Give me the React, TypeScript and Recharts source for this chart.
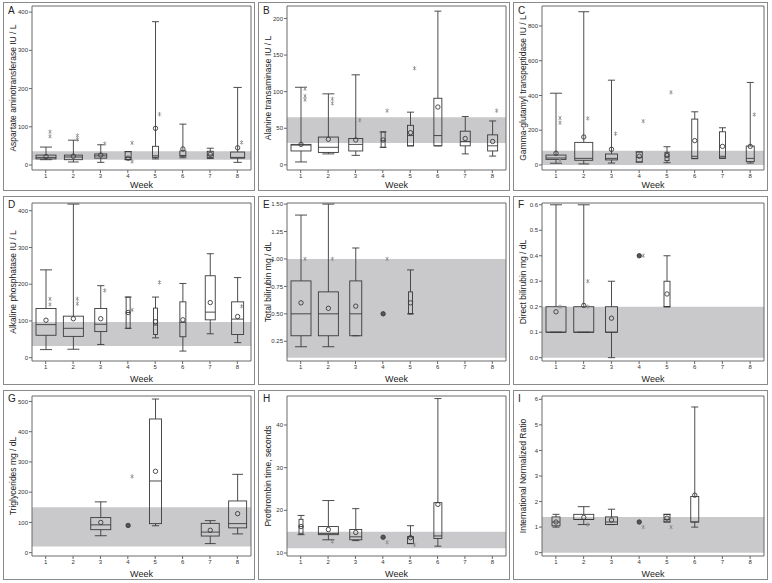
import { Bar, ComposedChart, ReferenceArea, XAxis, YAxis } from 'recharts'

const weeks = ['1', '2', '3', '4', '5', '6', '7', '8']

// Per week: [low whisker, Q1, median, Q3, high whisker, mean]; null = no samples that week
const astStats = [
  [14, 16, 20, 26, 47, 22],
  [8, 14, 21, 26, 65, 23],
  [7, 18, 24, 29, 53, 26],
  [14, 14, 20, 35, 35, 18],
  [16, 20, 24, 49, 375, 96],
  [19, 23, 25, 37, 107, 42],
  [17, 20, 26, 36, 44, 28],
  [7, 18, 20, 34, 203, 45],
]
const astOutliers = [[75, 87], [67, 77], [56], [9, 58], [133], [], [], [59]]
const astCounts = [10, 9, 6, 3, 3, 3, 3, 7]

const altStats = [
  [4, 19, 27, 28, 106, 28],
  [15, 17, 24, 38, 97, 35],
  [13, 19, 28, 36, 123, 34],
  [24, 24, 33, 45, 45, 34],
  [26, 26, 40, 54, 72, 44],
  [26, 26, 40, 91, 210, 79],
  [15, 26, 32, 46, 66, 36],
  [12, 19, 26, 41, 60, 32],
]
const altOutliers = [[89, 94, 104], [84, 90], [61], [74], [132], [], [], [74]]
const altCounts = [10, 10, 7, 2, 3, 4, 5, 5]

const ggtStats = [
  [10, 32, 40, 57, 413, 67],
  [6, 27, 38, 130, 882, 161],
  [11, 29, 38, 63, 488, 90],
  [17, 17, 44, 75, 75, 50],
  [13, 25, 50, 73, 105, 54],
  [36, 38, 50, 264, 306, 140],
  [38, 40, 50, 191, 214, 107],
  [11, 19, 38, 109, 475, 107],
]
const ggtOutliers = [[28, 243, 270], [268], [180], [252], [418], [], [], [290]]
const ggtCounts = [10, 9, 6, 3, 2, 3, 3, 4]

const alpStats = [
  [22, 61, 90, 134, 239, 102],
  [23, 58, 80, 113, 418, 106],
  [36, 71, 91, 134, 196, 106],
  [80, 80, 123, 165, 165, 123],
  [54, 63, 89, 135, 165, 98],
  [18, 57, 96, 152, 202, 103],
  [65, 103, 124, 223, 283, 150],
  [41, 63, 105, 152, 218, 112],
]
const alpOutliers = [[145, 160], [147, 160], [183], [130], [205], [], [], [140]]
const alpCounts = [10, 10, 6, 2, 2, 3, 5, 6]

const tbilStats = [
  [0.2, 0.3, 0.5, 0.8, 1.4, 0.6],
  [0.2, 0.3, 0.5, 0.7, 1.5, 0.55],
  [0.3, 0.3, 0.5, 0.8, 1.1, 0.57],
  [0.5, 0.5, 0.5, 0.5, 0.5, 0.5],
  [0.5, 0.5, 0.5, 0.7, 0.9, 0.6],
  null,
  null,
  null,
]
const tbilOutliers = [[1.0], [1.0], [], [1.0], [], [], [], []]
const tbilCounts = [10, 10, 6, 1, 2, 0, 0, 0]

const dbilStats = [
  [0.1, 0.1, 0.1, 0.2, 0.6, 0.18],
  [0.1, 0.1, 0.1, 0.2, 0.6, 0.205],
  [0.0, 0.1, 0.1, 0.2, 0.3, 0.155],
  [0.4, 0.4, 0.4, 0.4, 0.4, 0.4],
  [0.2, 0.2, 0.2, 0.3, 0.4, 0.25],
  null,
  null,
  null,
]
const dbilOutliers = [[0.2], [0.2, 0.3], [], [0.4], [], [], [], []]
const dbilCounts = [10, 10, 6, 1, 3, 0, 0, 0]

const tgStats = [
  null,
  null,
  [56, 76, 92, 116, 168, 100],
  [90, 90, 90, 90, 90, 90],
  [89, 96, 237, 442, 508, 269],
  null,
  [30, 55, 68, 97, 106, 74],
  [62, 82, 96, 171, 259, 129],
]
const tgOutliers = [[], [], [], [252], [], [], [], []]
const tgCounts = [0, 0, 10, 1, 6, 0, 9, 9]

const ptStats = [
  [14.3, 14.5, 16.2, 17.9, 18.8, 16.2],
  [13.1, 14.3, 14.6, 16.2, 22.3, 15.5],
  [12.9, 13.1, 13.8, 15.5, 20.4, 14.8],
  [13.7, 13.7, 13.7, 13.7, 13.7, 13.7],
  [12.2, 12.2, 13.8, 13.8, 16.4, 13.6],
  [11.6, 13.4, 14.0, 21.8, 46.2, 21.4],
  null,
  null,
]
const ptOutliers = [[], [12.7], [], [12.5], [11.9], [], [], []]
const ptCounts = [2, 10, 6, 1, 3, 4, 0, 0]

const inrStats = [
  [1.0, 1.05, 1.2, 1.4, 1.5, 1.2],
  [1.1, 1.3, 1.3, 1.5, 1.8, 1.38],
  [1.1, 1.1, 1.2, 1.4, 1.7, 1.28],
  [1.2, 1.2, 1.2, 1.2, 1.2, 1.2],
  [1.2, 1.2, 1.3, 1.5, 1.5, 1.35],
  [1.0, 1.2, 1.2, 2.2, 5.7, 2.25],
  null,
  null,
]
const inrOutliers = [[], [1.1], [], [1.0], [1.0], [], [], []]
const inrCounts = [4, 10, 6, 1, 3, 4, 0, 0]

// normal reference ranges (shaded band) and axis ticks
const astBand = [14, 36]
const altBand = [30, 65]
const ggtBand = [0, 82]
const alpBand = [32, 97]
const tbilBand = [0.1, 1.0]
const dbilBand = [0, 0.2]
const tgBand = [20, 150]
const ptBand = [11.1, 15]
const inrBand = [0, 1.4]

const astTicks = [0, 100, 200, 300, 400]
const altTicks = [0, 50, 100, 150, 200]
const ggtTicks = [0, 200, 400, 600, 800]
const alpTicks = [0, 100, 200, 300, 400]
const tbilTicks = [0.25, 0.5, 0.75, 1.0, 1.25, 1.5]
const dbilTicks = [0, 0.1, 0.2, 0.3, 0.4, 0.5, 0.6]
const tgTicks = [0, 100, 200, 300, 400, 500]
const ptTicks = [10, 20, 30, 40]
const inrTicks = [0, 1, 2, 3, 4, 5, 6]

// outer panel box [left, right] and plot frame [left, right] per column; same for rows
const COLS = [
  [3, 255, 32, 251],
  [258, 510, 287, 506],
  [513, 768, 542, 764],
]
const ROWS = [
  [2, 191, 6, 170],
  [196, 385, 203, 361],
  [390, 580, 396, 556],
]

const INK = '#3a3a3a'
const FONT = '"Liberation Sans", Arial, sans-serif'

type Stat = number[] | null

interface Panel {
  letter: string
  title: string
  stats: Stat[]
  outliers: number[][]
  counts: number[]
  band: number[]
  ticks: number[]
  domain: [number, number]
  digits: number
}

const panels: Panel[] = [
  { letter: 'A', title: 'Aspartate aminotransferase IU / L', stats: astStats, outliers: astOutliers, counts: astCounts, band: astBand, ticks: astTicks, domain: [-13, 416], digits: 0 },
  { letter: 'B', title: 'Alanine transaminase IU / L', stats: altStats, outliers: altOutliers, counts: altCounts, band: altBand, ticks: altTicks, domain: [-7, 217], digits: 0 },
  { letter: 'C', title: 'Gamma-glutamyl transpeptidase IU / L', stats: ggtStats, outliers: ggtOutliers, counts: ggtCounts, band: ggtBand, ticks: ggtTicks, domain: [-29, 915], digits: 0 },
  { letter: 'D', title: 'Alkaline phosphatase IU / L', stats: alpStats, outliers: alpOutliers, counts: alpCounts, band: alpBand, ticks: alpTicks, domain: [-9, 421], digits: 0 },
  { letter: 'E', title: 'Total bilirubin mg / dL', stats: tbilStats, outliers: tbilOutliers, counts: tbilCounts, band: tbilBand, ticks: tbilTicks, domain: [0.07, 1.51], digits: 2 },
  { letter: 'F', title: 'Direct bilirubin mg / dL', stats: dbilStats, outliers: dbilOutliers, counts: dbilCounts, band: dbilBand, ticks: dbilTicks, domain: [-0.013, 0.607], digits: 1 },
  { letter: 'G', title: 'Triglycerides mg / dL', stats: tgStats, outliers: tgOutliers, counts: tgCounts, band: tgBand, ticks: tgTicks, domain: [-11, 518], digits: 0 },
  { letter: 'H', title: 'Prothrombin time, seconds', stats: ptStats, outliers: ptOutliers, counts: ptCounts, band: ptBand, ticks: ptTicks, domain: [9.3, 46.8], digits: 0 },
  { letter: 'I', title: 'International Normalized Ratio', stats: inrStats, outliers: inrOutliers, counts: inrCounts, band: inrBand, ticks: inrTicks, domain: [-0.13, 6.13], digits: 0 },
]

function Asterisk({ cx, cy }: { cx: number; cy: number }) {
  const r = 2.2
  const d = r * 0.7
  return (
    <g stroke="#8c8c8c" strokeWidth={0.8}>
      <line x1={cx} x2={cx} y1={cy - r} y2={cy + r} />
      <line x1={cx - d} x2={cx + d} y1={cy - d} y2={cy + d} />
      <line x1={cx - d} x2={cx + d} y1={cy + d} y2={cy - d} />
    </g>
  )
}

// The bar spans the whole y domain, so its rect gives the value -> pixel mapping
function BoxGlyph(props: any) {
  const { x, y, width, height, payload, domain } = props
  const s: Stat = payload.stat
  if (!s) return <g />
  const [lo, hi] = domain
  const py = (v: number) => y + ((hi - v) / (hi - lo)) * height
  const cx = x + width / 2
  const bw = (width * payload.n) / 10
  const cap = Math.max(7, bw * 0.6)
  const [wl, q1, med, q3, wh, mean] = s
  const single = q1 === q3 && wl === wh
  return (
    <g>
      {!single && (
        <g stroke={INK} strokeWidth={0.9} fill="none">
          <line x1={cx} x2={cx} y1={py(wh)} y2={py(q3)} />
          <line x1={cx} x2={cx} y1={py(q1)} y2={py(wl)} />
          <line x1={cx - cap / 2} x2={cx + cap / 2} y1={py(wh)} y2={py(wh)} />
          <line x1={cx - cap / 2} x2={cx + cap / 2} y1={py(wl)} y2={py(wl)} />
          <rect x={cx - bw / 2} y={py(q3)} width={bw} height={py(q1) - py(q3)} />
          <line x1={cx - bw / 2} x2={cx + bw / 2} y1={py(med)} y2={py(med)} />
        </g>
      )}
      <circle
        cx={cx}
        cy={py(mean)}
        r={2.2}
        fill={single ? '#555' : 'none'}
        stroke={INK}
        strokeWidth={0.9}
      />
      {payload.out.map((v: number, i: number) => (
        <Asterisk key={i} cx={cx + 4} cy={py(v)} />
      ))}
    </g>
  )
}

function LabPanel({ panel, col, row }: { panel: Panel; col: number[]; row: number[] }) {
  const [left, right, frameL, frameR] = col
  const [top, bottom, frameT, frameB] = row
  const w = right - left
  const h = bottom - top
  const data = weeks.map((week, i) => ({
    week,
    span: panel.domain,
    stat: panel.stats[i],
    n: panel.counts[i],
    out: panel.outliers[i],
  }))
  const tickStyle = { fontSize: 6, fill: '#333' }
  return (
    <div
      style={{
        position: 'absolute',
        left,
        top,
        width: w,
        height: h,
        boxSizing: 'border-box',
        border: '1px solid #8a8a8a',
      }}
    >
      <div style={{ position: 'absolute', left: 4, top: 2, fontSize: 10, color: '#222' }}>
        {panel.letter}
      </div>
      <ComposedChart
        width={w - 2}
        height={h - 2}
        data={data}
        margin={{ top: frameT - top - 1, right: right - 1 - frameR, bottom: 0, left: 0 }}
      >
        <ReferenceArea
          y1={panel.band[0]}
          y2={panel.band[1]}
          fill="#c9c9cc"
          fillOpacity={1}
          stroke="none"
          ifOverflow="visible"
        />
        <XAxis
          dataKey="week"
          interval={0}
          axisLine={false}
          tickSize={3}
          tickMargin={1}
          tickLine={{ stroke: '#666' }}
          tick={tickStyle}
          height={bottom - 1 - frameB}
          label={{ value: 'Week', position: 'insideBottom', offset: 2, fontSize: 9, fill: '#222' }}
        />
        <YAxis
          type="number"
          domain={panel.domain}
          ticks={panel.ticks}
          allowDataOverflow
          axisLine={false}
          tickSize={3}
          tickMargin={1}
          tickLine={{ stroke: '#666' }}
          tick={tickStyle}
          width={frameL - left - 1}
          tickFormatter={(v: number) => v.toFixed(panel.digits)}
          label={{ value: panel.title, angle: -90, position: 'center', dx: -5, fontSize: 8.5, fill: '#222' }}
        />
        <Bar
          dataKey="span"
          barSize={20}
          isAnimationActive={false}
          shape={(p: any) => <BoxGlyph {...p} domain={panel.domain} />}
        />
        <ReferenceArea
          y1={panel.domain[0]}
          y2={panel.domain[1]}
          fill="none"
          stroke="#6a6a6a"
          strokeWidth={1}
          ifOverflow="visible"
        />
      </ComposedChart>
    </div>
  )
}

export default function App() {
  return (
    <div
      style={{
        position: 'absolute',
        left: 0,
        top: 0,
        width: 772,
        height: 583,
        background: '#fff',
        fontFamily: FONT,
      }}
    >
      {panels.map((p, i) => (
        <LabPanel key={p.letter} panel={p} col={COLS[i % 3]} row={ROWS[Math.floor(i / 3)]} />
      ))}
    </div>
  )
}
